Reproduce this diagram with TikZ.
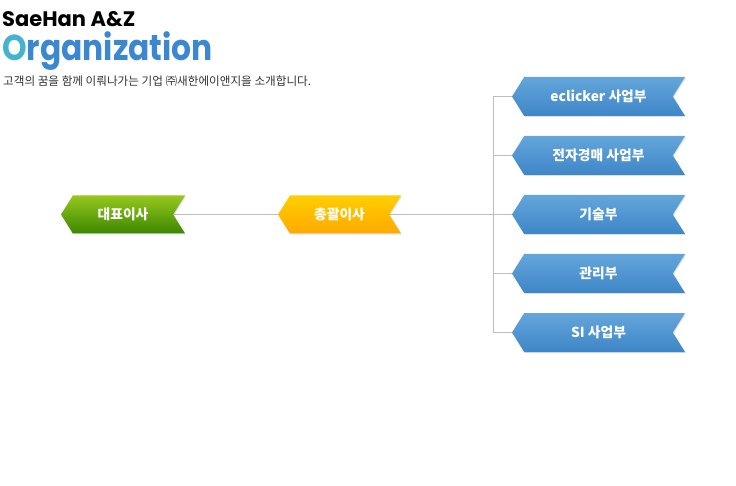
\documentclass[tikz,border=0pt]{standalone}
\usepackage{graphicx}
\usepackage{fontspec}
\setmainfont{Noto Sans CJK KR}
\newfontfamily\kr{Noto Sans CJK KR}
\newfontfamily\pop{Poppins}
\usetikzlibrary{shapes.symbols,shadows,backgrounds}
\definecolor{linegray}{HTML}{BDBDBD}
\definecolor{ocyan}{HTML}{45B2D2}
\definecolor{oblue}{HTML}{3B88D0}
\tikzset{
  banner/.style={shape=signal, signal to=west, signal from=east,
    signal pointer angle=116, inner sep=0pt, text=white,
    drop shadow={shadow xshift=0.8pt, shadow yshift=-1pt, opacity=0.12, fill=black},
    font=\kr\bfseries\fontsize{13.8}{15}\selectfont},
  conn/.style={draw=linegray, line width=0.8pt}
}
\begin{document}
\begin{tikzpicture}[x=1pt,y=-1pt]
\useasboundingbox (0,0) rectangle (736,486);
\node[anchor=base west, inner sep=0, font=\pop\bfseries\fontsize{21}{24}\selectfont] (t1) at (2,27) {SaeHan A\&Z};
\node[anchor=base west, inner sep=0, font=\pop\bfseries\fontsize{36}{40}\selectfont] (t2) at (2,61) {\scalebox{0.87}[1]{\textcolor{ocyan}{O}\textcolor{oblue}{rganization}}};
\node[anchor=base west, inner sep=0, font=\kr\fontsize{11.6}{13}\selectfont, text=black!80] (t3) at (3,86) {고객의 꿈을 함께 이뤄나가는 기업 ㈜새한에이앤지을 소개합니다.};

\node[banner, minimum width=124, minimum height=38, top color={rgb,255:red,150;green,200;blue,30}, bottom color={rgb,255:red,60;green,135;blue,0}] (ceo) at (123,214.5) {대표이사};
\node[banner, minimum width=123, minimum height=38, top color={rgb,255:red,255;green,206;blue,0}, bottom color={rgb,255:red,255;green,170;blue,0}] (gm) at (339.5,214.5) {총괄이사};
\foreach \n/\t [count=\i from 0] in {b1/eclicker 사업부, b2/전자경매 사업부, b3/기술부, b4/관리부, b5/SI 사업부}{
  \node[banner, minimum width=173, minimum height=39, top color={rgb,255:red,100;green,166;blue,218}, bottom color={rgb,255:red,62;green,134;blue,200}] (\n) at (598.5,96.5+59*\i) {\t};
}
\coordinate (j) at (493,214.5);
\begin{scope}[on background layer]
\draw[conn] (ceo) -- (gm);
\draw[conn] (gm) -- (b3);
\draw[conn] (j |- b1) -- (j |- b5);
\foreach \n in {b1,b2,b4,b5}{ \draw[conn] (j |- \n) -- (\n); }
\end{scope}
\end{tikzpicture}
\end{document}
